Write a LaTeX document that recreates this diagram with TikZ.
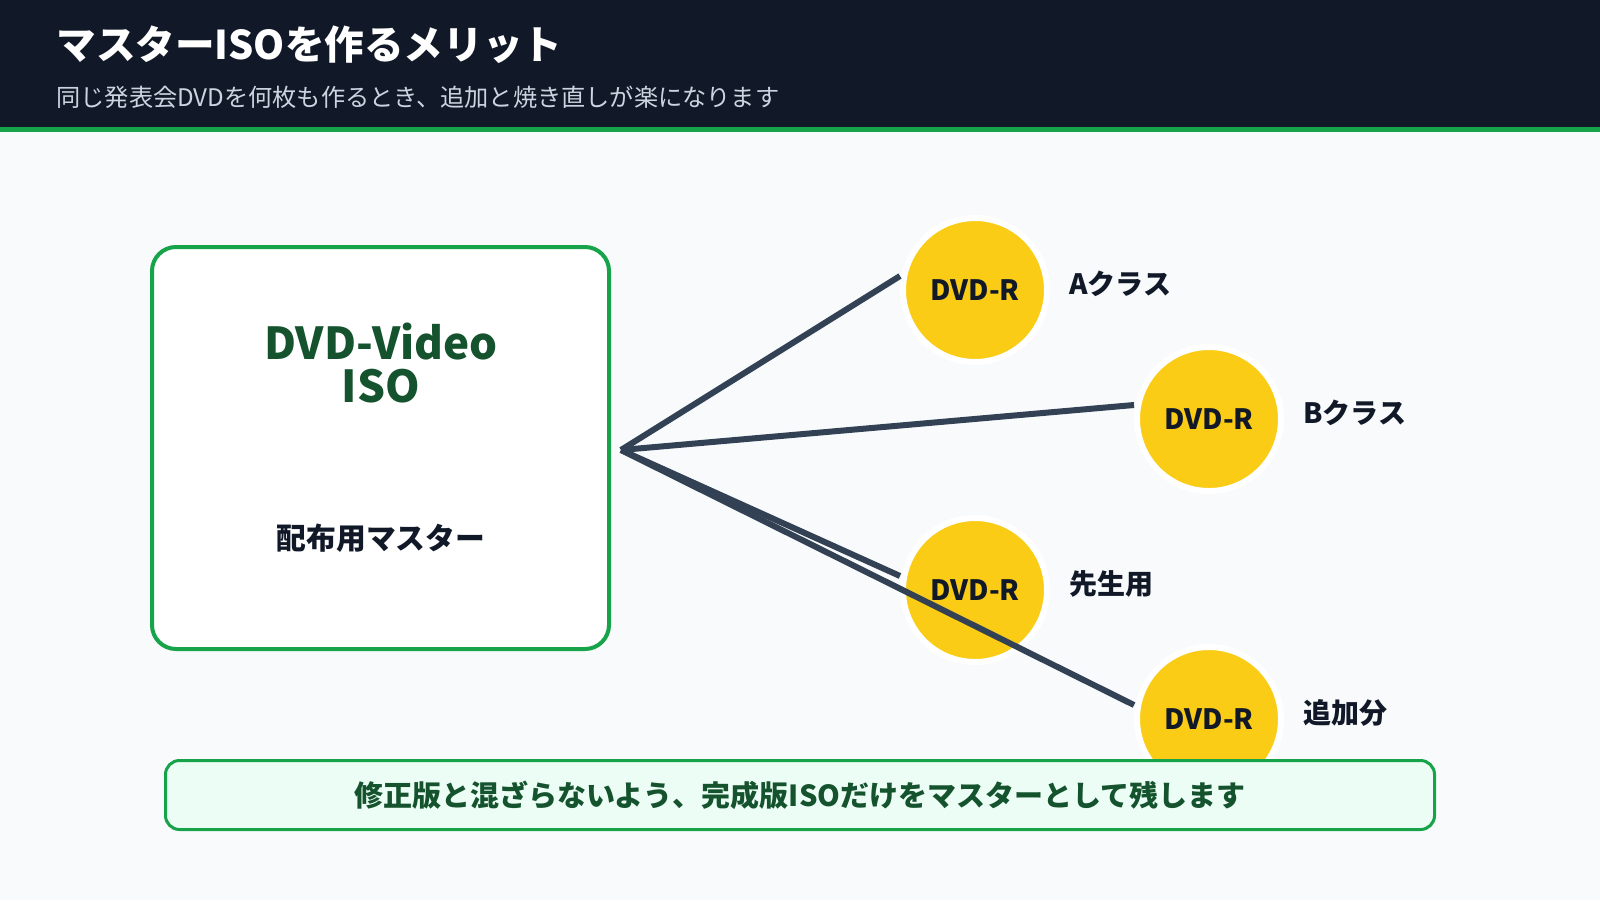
\documentclass[tikz,border=0pt]{standalone}
\usepackage{fontspec}
\setmainfont{Noto Sans CJK JP}
\usetikzlibrary{calc,positioning}
\definecolor{headbg}{HTML}{111827}
\definecolor{pagebg}{HTML}{F8FAFC}
\definecolor{mgreen}{HTML}{16A34A}
\definecolor{dgreen}{HTML}{14532D}
\definecolor{ink}{HTML}{111827}
\definecolor{subgray}{HTML}{CBD5E1}
\definecolor{discyellow}{HTML}{FACC15}
\definecolor{wirecol}{HTML}{334155}
\definecolor{notebg}{HTML}{ECFDF5}

\begin{document}
\begin{tikzpicture}[x=0.5pt,y=-0.5pt,
    dvdr/.style={circle, fill=discyellow, draw=white, line width=3pt,
        minimum size=72pt, inner sep=0pt, text=ink,
        font=\bfseries\fontsize{14pt}{16pt}\selectfont},
    tag/.style={right=6pt of #1, yshift=3pt, text=ink,
        font=\bfseries\fontsize{14pt}{16pt}\selectfont},
    wire/.style={wirecol, line width=3pt}]
    \useasboundingbox (0,0) rectangle (1600,900);
    % page and header
        \fill [pagebg] (0,0) rectangle (1600,900);
        \fill [headbg] (0,0) rectangle (1600,127);
        \fill [mgreen] (0,127) rectangle (1600,132);
        \node (title) [anchor=west, text=white, inner sep=0pt,
            font=\bfseries\fontsize{19.8pt}{22pt}\selectfont] at (56,45)
            {マスターISOを作るメリット};
        \node (subtitle) [anchor=west, text=subgray, inner sep=0pt,
            font=\fontsize{12.1pt}{14pt}\selectfont] at (56,97)
            {同じ発表会DVDを何枚も作るとき、追加と焼き直しが楽になります};
    % master
        \node (master) [draw=mgreen, fill=white, line width=2pt, rounded corners=12pt,
            minimum width=228.5pt, minimum height=201pt] at (380.5,448) {};
        \node (iso) [text=dgreen, align=center, inner sep=0pt,
            font=\bfseries\fontsize{22pt}{21.5pt}\selectfont] at (381,363)
            {DVD-Video\\ISO};
        \node (role) [text=ink, inner sep=0pt,
            font=\bfseries\fontsize{14.9pt}{16pt}\selectfont] at (381,538) {配布用マスター};
        \coordinate (hub) at ($(master.east)+(10,2)$);
    % discs
        \node (a) [dvdr] at (975,290) {DVD-R};
        \node (b) [dvdr] at (1209,419) {DVD-R};
        \node (c) [dvdr] at (975,590) {DVD-R};
        \node (d) [dvdr] at (1209,719) {DVD-R};
        \node (a-tag) [tag=a] {Aクラス};
        \node (b-tag) [tag=b] {Bクラス};
        \node (c-tag) [tag=c] {先生用};
        \node (d-tag) [tag=d] {追加分};
        \coordinate (a-in) at ($(a)+(-75,-14)$);
        \coordinate (b-in) at ($(b)+(-75,-14)$);
        \coordinate (c-in) at ($(c)+(-75,-14)$);
        \coordinate (d-in) at ($(d)+(-75,-14)$);
    % wires
        \draw [wire] (hub) -- (a-in);
        \draw [wire] (hub) -- (b-in);
        \draw [wire] (hub) -- (c-in);
        \draw [wire] (hub) -- (d-in);
    % note
        \node (note) [draw=mgreen, fill=notebg, line width=1.5pt, rounded corners=7pt,
            minimum width=634.5pt, minimum height=34.5pt, text=dgreen,
            font=\bfseries\fontsize{14.5pt}{16pt}\selectfont] at (800,795)
            {修正版と混ざらないよう、完成版ISOだけをマスターとして残します};
\end{tikzpicture}
\end{document}
